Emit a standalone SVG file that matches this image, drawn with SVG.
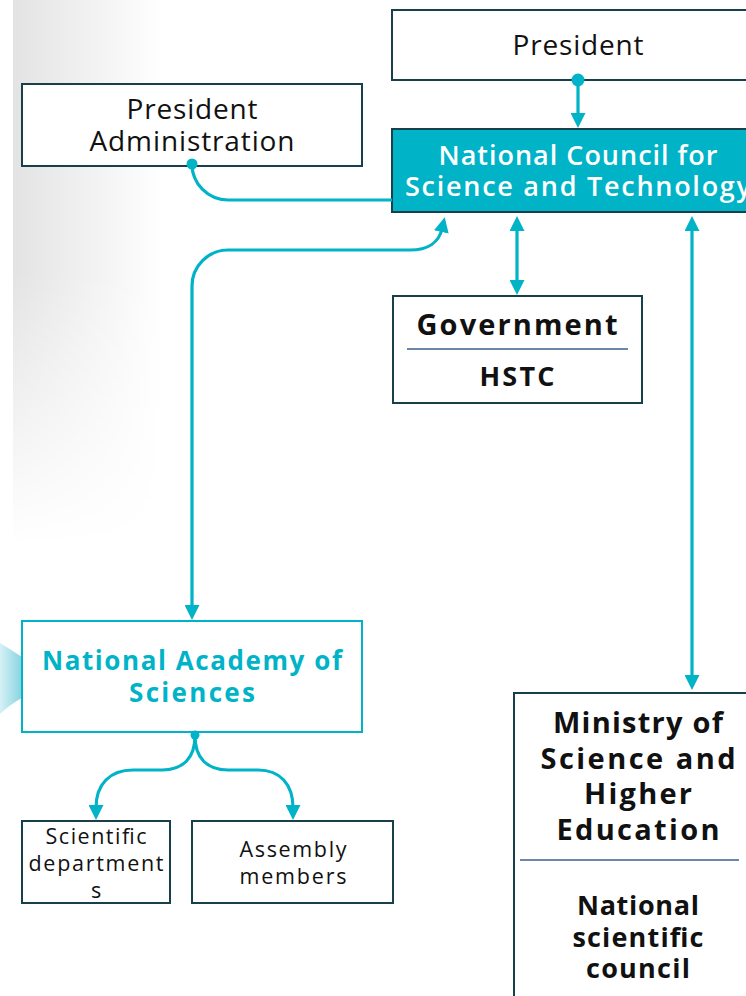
<svg xmlns="http://www.w3.org/2000/svg" width="746" height="996" viewBox="0 0 746 996">
<defs>
<style>
.box{fill:#fff;stroke:#17404a;stroke-width:2}
.t{font-family:"Open Sans","Liberation Sans",sans-serif;text-anchor:middle;fill:#111}
.r{font-weight:400}
.b{font-weight:700}
.conn path{fill:none;stroke:#00b3c7;stroke-width:3.2}
.dot{fill:#00b3c7}
.div{stroke:#3a5f8c;stroke-width:1.6}
</style>
<marker id="ah" viewBox="0 0 15 15" refX="3" refY="7.5" markerWidth="15" markerHeight="15" markerUnits="userSpaceOnUse" orient="auto-start-reverse">
<path d="M0,0 L15,7.5 L0,15 z" fill="#00b3c7"/>
</marker>
<linearGradient id="bgH" x1="0" y1="0" x2="1" y2="0">
<stop offset="0" stop-color="#e3e3e3"/>
<stop offset="1" stop-color="#ffffff"/>
</linearGradient>
<linearGradient id="fadeV" x1="0" y1="0" x2="0" y2="1">
<stop offset="0" stop-color="#fff"/>
<stop offset="0.5" stop-color="#fff"/>
<stop offset="1" stop-color="#000"/>
</linearGradient>
<mask id="m1" maskUnits="userSpaceOnUse" x="0" y="0" width="200" height="560">
<rect x="0" y="0" width="200" height="545" fill="url(#fadeV)"/>
</mask>
<linearGradient id="glow" x1="0" y1="0" x2="1" y2="0">
<stop offset="0" stop-color="#d6f1f5"/>
<stop offset="1" stop-color="#86d4e1"/>
</linearGradient>
</defs>
<rect width="746" height="996" fill="#fff"/>
<rect x="13" y="0" width="150" height="545" fill="url(#bgH)" mask="url(#m1)"/>
<path d="M0,643 Q13,651 22,657 L22,698 Q12,703 0,714 Z" fill="url(#glow)"/>

<g id="president">
<rect class="box" x="392" y="10" width="370" height="70"/>
<text class="t r" x="578" y="55" font-size="28" textLength="131" lengthAdjust="spacing">President</text>
</g>
<g id="president-admin">
<rect class="box" x="22" y="84" width="340" height="82"/>
<text class="t r" x="192" y="119" font-size="28" textLength="131" lengthAdjust="spacing">President</text>
<text class="t r" x="192" y="151" font-size="28" textLength="205" lengthAdjust="spacing">Administration</text>
</g>
<g id="ncst">
<rect x="392" y="129" width="370" height="83" fill="#00b3c7" stroke="#17404a" stroke-width="2"/>
<text class="t" x="578" y="165" font-size="27" font-weight="600" style="fill:#fff" textLength="279" lengthAdjust="spacing">National Council for</text>
<text class="t" x="578" y="196" font-size="27" font-weight="600" style="fill:#fff" textLength="346" lengthAdjust="spacing">Science and Technology</text>
</g>
<g id="government">
<rect class="box" x="393" y="296" width="249" height="107"/>
<text class="t b" x="517" y="335" font-size="29" textLength="201" lengthAdjust="spacing">Government</text>
<line class="div" x1="407" y1="349" x2="628" y2="349"/>
<text class="t b" x="517" y="386" font-size="27" textLength="75" lengthAdjust="spacing">HSTC</text>
</g>
<g id="nas">
<rect x="22" y="621" width="340" height="111" fill="#fff" stroke="#00b3c7" stroke-width="2"/>
<text class="t b" x="192" y="670" font-size="26" style="fill:#00b3c7" textLength="300" lengthAdjust="spacing">National Academy of</text>
<text class="t b" x="192" y="702" font-size="26" style="fill:#00b3c7" textLength="126" lengthAdjust="spacing">Sciences</text>
</g>
<g id="sci-dept">
<rect class="box" x="22" y="821" width="148" height="82"/>
<text class="t r" x="96" y="844" font-size="21.5" textLength="101" lengthAdjust="spacing">Scientific</text>
<text class="t r" x="96" y="871" font-size="21.5" textLength="135" lengthAdjust="spacing">department</text>
<text class="t r" x="96" y="898" font-size="21.5">s</text>
</g>
<g id="assembly">
<rect class="box" x="192" y="821" width="201" height="82"/>
<text class="t r" x="293" y="857" font-size="21.5" textLength="107" lengthAdjust="spacing">Assembly</text>
<text class="t r" x="293" y="884" font-size="21.5" textLength="107" lengthAdjust="spacing">members</text>
</g>
<g id="ministry">
<rect class="box" x="514" y="693" width="250" height="320"/>
<text class="t b" x="638" y="733" font-size="29" textLength="170" lengthAdjust="spacing">Ministry of</text>
<text class="t b" x="638" y="769" font-size="29" textLength="195" lengthAdjust="spacing">Science and</text>
<text class="t b" x="638" y="804" font-size="29" textLength="108" lengthAdjust="spacing">Higher</text>
<text class="t b" x="638" y="840" font-size="29" textLength="163" lengthAdjust="spacing">Education</text>
<line class="div" x1="520" y1="860" x2="739" y2="860"/>
<text class="t b" x="638" y="915" font-size="27" textLength="122" lengthAdjust="spacing">National</text>
<text class="t b" x="638" y="947" font-size="27" textLength="131" lengthAdjust="spacing">scientific</text>
<text class="t b" x="638" y="978" font-size="27" textLength="104" lengthAdjust="spacing">council</text>
</g>

<g id="connectors" class="conn">
<path d="M578,80 L578,116" marker-end="url(#ah)"/>
<circle class="dot" cx="578" cy="80" r="6.5"/>
<path d="M192,164 A36,36 0 0 0 228,200 L392,200"/>
<circle class="dot" cx="192" cy="164" r="5.5"/>
<path d="M192,608 L192,286 A36,36 0 0 1 228,250 L410,250 C428,250 439,242 442,229" marker-start="url(#ah)" marker-end="url(#ah)"/>
<path d="M517,228 L517,283" marker-start="url(#ah)" marker-end="url(#ah)"/>
<path d="M692,228 L692,678" marker-start="url(#ah)" marker-end="url(#ah)"/>
<path d="M195,736 C195,758 183,770 162,770 L133,770 C110,770 96,784 96,808" marker-end="url(#ah)"/>
<path d="M195,736 C195,758 207,770 228,770 L258,770 C280,770 293,784 293,808" marker-end="url(#ah)"/>
<circle class="dot" cx="195" cy="735" r="4.5"/>
</g>
</svg>
